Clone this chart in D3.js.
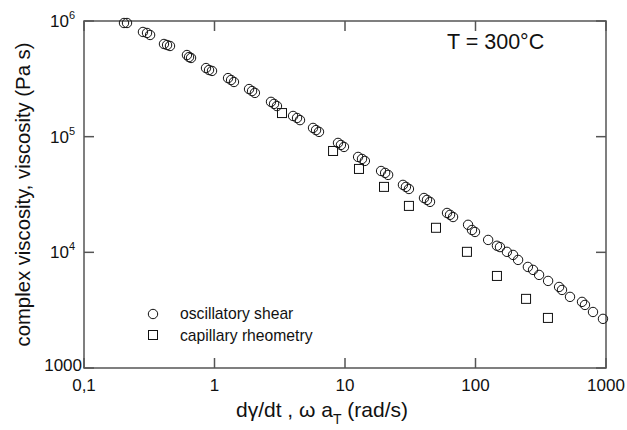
<!DOCTYPE html>
<html>
<script src="https://d3js.org/d3.v7.min.js"></script>
<style>
    body { margin: 0; background: #fff; }
    text { font-family: "Liberation Sans", Arial, sans-serif; fill: #111; }
</style>
<body>
</body>
<script>
    const width = 627,
        height = 430;

    // oscillatory shear (omega aT, |eta*|)
    const oscRate = [0.2025, 0.2136, 0.283, 0.304, 0.321, 0.410, 0.433, 0.456, 0.615, 0.638, 0.661,
        0.861, 0.908, 0.957, 1.27, 1.34, 1.41, 1.84, 1.94, 2.04, 2.71, 2.86, 3.01, 4.00, 4.29, 4.52,
        5.69, 6.00, 6.32, 8.84, 9.31, 9.82, 12.6, 13.5, 14.2, 18.9, 20.3, 21.4, 27.8, 29.3, 30.9,
        40.3, 42.5, 44.8, 60.5, 63.8, 67.3, 87.7, 94.0, 99.1, 125, 146, 154, 174, 194, 212,
        252, 276, 307, 360, 437, 460, 530, 655, 690, 795, 948
    ];
    const oscVisc = [961000, 961000, 804000, 788000, 757000, 633000, 620000, 608000, 508000, 488000, 479000,
        392000, 377000, 370000, 321000, 309000, 297000, 258000, 248000, 239000, 200000, 192000, 184000,
        151000, 145000, 139000, 119000, 114000, 110000, 88300, 84800, 81500, 66800, 64200, 61700,
        50500, 48600, 46700, 38300, 36800, 35300, 29500, 28400, 27300, 21900, 21100, 20200,
        17300, 15600, 15000, 12800, 11400, 11100, 10100, 9500, 8600, 7480, 7050, 6380,
        5660, 5020, 4730, 4120, 3730, 3510, 3050, 2660
    ];
    // capillary rheometry (shear rate, viscosity)
    const capRate = [3.29, 8.1, 12.8, 19.9, 30.9, 49.8, 86, 146, 244, 359];
    const capVisc = [160000, 75200, 52600, 36800, 25200, 16300, 10100, 6250, 3960, 2710];

    const xTicks = [0.1, 1, 10, 100, 1000];
    const xTickLabels = ["0,1", "1", "10", "100", "1000"];
    const yTicks = [1000, 1e4, 1e5, 1e6];
    const yTickLabels = [["1000", ""], ["10", "4"], ["10", "5"], ["10", "6"]];

    const margin = { left: 84, right: 21, top: 21, bottom: 62 };
    const svg = d3.select("body").append("svg").attr("width", width).attr("height", height);

    const x = d3.scaleLog().domain([0.1, 1000]).range([margin.left, width - margin.right]);
    const y = d3.scaleLog().domain([1000, 1e6]).range([height - margin.bottom, margin.top]);

    const axisColor = "#555";
    const tickLen = 10;

    // frame
    svg.append("rect")
        .attr("x", x(0.1)).attr("y", y(1e6))
        .attr("width", x(1000) - x(0.1)).attr("height", y(1000) - y(1e6))
        .attr("fill", "none").attr("stroke", axisColor).attr("stroke-width", 1.5);

    // inward ticks on all sides
    const g = svg.append("g").attr("stroke", axisColor).attr("stroke-width", 1.5);
    xTicks.forEach(t => {
        g.append("line").attr("x1", x(t)).attr("x2", x(t)).attr("y1", y(1000)).attr("y2", y(1000) - tickLen);
        g.append("line").attr("x1", x(t)).attr("x2", x(t)).attr("y1", y(1e6)).attr("y2", y(1e6) + tickLen);
    });
    yTicks.forEach(t => {
        g.append("line").attr("x1", x(0.1)).attr("x2", x(0.1) + tickLen).attr("y1", y(t)).attr("y2", y(t));
        g.append("line").attr("x1", x(1000)).attr("x2", x(1000) - tickLen).attr("y1", y(t)).attr("y2", y(t));
    });

    // x tick labels
    svg.selectAll(".xl")
        .data(xTicks)
        .join("text")
        .attr("class", "xl")
        .attr("x", d => x(d))
        .attr("y", y(1000) + 22.5)
        .attr("text-anchor", "middle")
        .attr("font-size", 17)
        .text((d, i) => xTickLabels[i]);

    // y tick labels
    yTicks.forEach((t, i) => {
        const sup = yTickLabels[i][1];
        const txt = svg.append("text")
            .attr("x", x(0.1) - (sup ? 9 : 2))
            .attr("y", y(t) + (sup ? 6 : 3))
            .attr("text-anchor", "end")
            .attr("font-size", 17);
        txt.append("tspan").text(yTickLabels[i][0]);
        if (sup) {
            txt.append("tspan").attr("dy", -8).attr("font-size", 11).text(sup);
        }
    });

    // axis titles
    const xt = svg.append("text")
        .attr("x", 322)
        .attr("y", 417)
        .attr("text-anchor", "middle")
        .attr("font-size", 21);
    xt.append("tspan").text("d\u03b3/dt , \u03c9 a");
    xt.append("tspan").attr("dy", 7).attr("font-size", 14).text("T");
    xt.append("tspan").attr("dy", -7).text(" (rad/s)");

    svg.append("text")
        .attr("transform", `translate(30,${(y(1000) + y(1e6)) / 2}) rotate(-90)`)
        .attr("text-anchor", "middle")
        .attr("font-size", 20.3)
        .text("complex viscosity, viscosity (Pa s)");

    svg.append("text")
        .attr("x", 447)
        .attr("y", 49)
        .attr("font-size", 21.5)
        .text("T = 300\u00b0C");

    // data
    const osc = oscRate.map((r, i) => ({ r: r, v: oscVisc[i] }));
    const cap = capRate.map((r, i) => ({ r: r, v: capVisc[i] }));

    svg.selectAll(".osc")
        .data(osc)
        .join("circle")
        .attr("class", "osc")
        .attr("cx", d => x(d.r))
        .attr("cy", d => y(d.v))
        .attr("r", 4.7)
        .attr("fill", "none")
        .attr("stroke", "#111")
        .attr("stroke-width", 1);

    const s = 9;
    svg.selectAll(".cap")
        .data(cap)
        .join("rect")
        .attr("class", "cap")
        .attr("x", d => x(d.r) - s / 2)
        .attr("y", d => y(d.v) - s / 2)
        .attr("width", s)
        .attr("height", s)
        .attr("fill", "none")
        .attr("stroke", "#111")
        .attr("stroke-width", 1);

    // legend
    svg.append("circle")
        .attr("cx", 153).attr("cy", 314).attr("r", 4.7)
        .attr("fill", "none").attr("stroke", "#111");
    svg.append("text").attr("x", 180).attr("y", 319).attr("font-size", 15.7).text("oscillatory shear");
    svg.append("rect")
        .attr("x", 153 - s / 2).attr("y", 335 - s / 2).attr("width", s).attr("height", s)
        .attr("fill", "none").attr("stroke", "#111");
    svg.append("text").attr("x", 180).attr("y", 341).attr("font-size", 15.7).text("capillary rheometry");
</script>
</html>
